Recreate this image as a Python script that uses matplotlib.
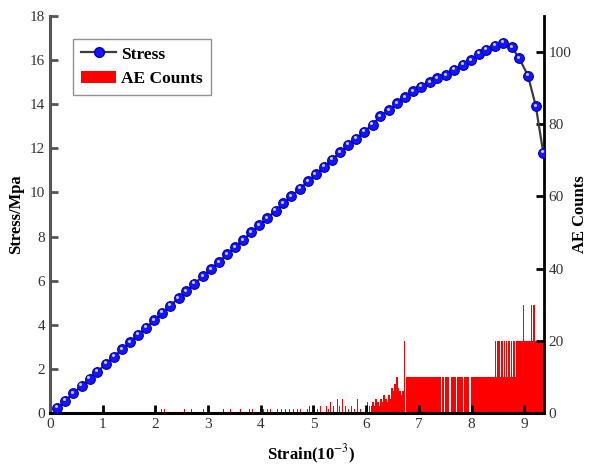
import matplotlib
matplotlib.use('Agg')
import matplotlib.pyplot as plt
import matplotlib.transforms as mtransforms
from matplotlib.lines import Line2D
from matplotlib.patches import Patch

# Stress-strain curve (strain in 1e-3, stress in MPa)
strain = [0.14, 0.29, 0.44, 0.60, 0.75, 0.90, 1.06, 1.21, 1.36, 1.52,
          1.67, 1.82, 1.98, 2.13, 2.28, 2.44, 2.59, 2.74, 2.90, 3.05,
          3.20, 3.36, 3.51, 3.66, 3.82, 3.97, 4.12, 4.28, 4.43, 4.58,
          4.74, 4.89, 5.04, 5.20, 5.35, 5.50, 5.66, 5.81, 5.96, 6.12,
          6.27, 6.43, 6.59, 6.73, 6.89, 7.04, 7.21, 7.35, 7.52, 7.67,
          7.83, 7.99, 8.14, 8.28, 8.44, 8.59, 8.76, 8.90, 9.07, 9.22,
          9.36]
stress = [0.24, 0.56, 0.89, 1.23, 1.56, 1.88, 2.23, 2.55, 2.88, 3.22,
          3.55, 3.87, 4.21, 4.54, 4.86, 5.21, 5.53, 5.86, 6.20, 6.53,
          6.85, 7.20, 7.52, 7.84, 8.19, 8.51, 8.84, 9.18, 9.50, 9.83,
          10.17, 10.50, 10.82, 11.17, 11.49, 11.82, 12.16, 12.44, 12.75, 13.08,
          13.45, 13.73, 14.06, 14.32, 14.60, 14.80, 15.00, 15.18, 15.33, 15.57,
          15.80, 16.00, 16.29, 16.48, 16.66, 16.79, 16.60, 16.10, 15.30, 13.90,
          11.80]

# AE hits, sparse early phase (strain, counts)
ae_strain = [2.05, 2.12, 2.18, 2.55, 2.68, 2.92, 3.15, 3.30, 3.42, 3.55,
             3.62, 3.70, 3.78, 3.85, 3.99, 4.05, 4.12, 4.18, 4.25, 4.32,
             4.40, 4.47, 4.55, 4.62, 4.70, 4.76, 4.80, 4.88, 4.93, 5.02,
             5.08, 5.13, 5.18, 5.24, 5.28, 5.33, 5.38, 5.45, 5.50, 5.55,
             5.60, 5.66, 5.72, 5.78, 5.83, 5.90, 5.96, 6.02, 6.06]
ae_counts = [1, 1, 1, 1, 1, 1, 1, 1, 1, 1,
             1, 1, 1, 1, 1, 1, 1, 1, 1, 1,
             1, 1, 1, 1, 1, 1, 1, 1, 2, 1,
             1, 2, 1, 2, 1, 3, 2, 4, 2, 4,
             2, 1, 2, 1, 4, 1, 2, 3, 2]

# AE hits, dense phase before the plateau
dense_strain = [6.10, 6.13, 6.16, 6.19, 6.22, 6.25, 6.28, 6.31, 6.34, 6.37,
                6.40, 6.43, 6.46, 6.49, 6.52, 6.55, 6.58, 6.61, 6.64, 6.67,
                6.70, 6.73]
dense_counts = [2, 3, 2, 4, 3, 2, 4, 3, 5, 4,
                3, 5, 4, 7, 6, 8, 10, 7, 6, 5,
                6, 20]

# AE hits, single peaks above the plateau
peak_strain = [8.45, 8.49, 8.52, 8.56, 8.59, 8.63, 8.67, 8.71, 8.75, 8.79,
               8.82, 8.98, 9.135]
peak_counts = [20, 20, 20, 20, 20, 20, 20, 20, 20, 20,
               20, 30, 30]

# AE hits: continuous runs (start, end, counts)
run_start = [6.75, 7.44, 7.49, 7.60, 7.72, 7.85, 7.98, 8.85, 9.17]
run_end = [7.42, 7.47, 7.58, 7.70, 7.83, 7.96, 8.85, 9.37, 9.21]
run_counts = [10, 10, 10, 10, 10, 10, 10, 20, 30]

plt.rcParams['font.family'] = ['Liberation Serif', 'DejaVu Serif']
plt.rcParams['mathtext.fontset'] = 'stix'

fig = plt.figure(figsize=(5.93, 4.67), dpi=100)
ax = fig.add_axes([0.0843, 0.1156, 0.8327, 0.8501])
ax2 = ax.twinx()

# AE counts on the right axis
ax2.bar(ae_strain, ae_counts, width=0.016, color='#ff0000', linewidth=0)
ax2.bar(dense_strain, dense_counts, width=0.032, color='#ff0000', linewidth=0)
ax2.bar(peak_strain, peak_counts, width=0.02, color='#ff0000', linewidth=0)
ax2.bar(run_start, run_counts, width=[e - s for s, e in zip(run_start, run_end)],
        align='edge', color='#ff0000', linewidth=0)
ax2.set_ylim(0, 110)
ax2.set_yticks([0, 20, 40, 60, 80, 100])
ax2.set_ylabel('AE Counts', fontsize=12, fontweight='bold', labelpad=0)

# stress curve on top
ax.set_zorder(ax2.get_zorder() + 1)
ax.patch.set_visible(False)
ax.plot(strain, stress, color='#3c3c3c', lw=1.6, zorder=2)
ax.plot(strain, stress, ls='none', marker='o', ms=7, mfc='#1414ff', mec='#0000b0',
        mew=0.8, zorder=3)
hl = mtransforms.offset_copy(ax.transData, fig=fig, x=-0.8, y=1.0, units='points')
ax.plot(strain, stress, ls='none', marker='o', ms=2.2, mfc='#c8ccff', mec='none',
        transform=hl, zorder=4)

ax.set_xlim(0, 9.37)
ax.set_ylim(0, 18)
ax.set_xticks(range(0, 10))
ax.set_yticks(range(0, 19, 2))
ax.set_xlabel('Strain(10$^{-3}$)', fontsize=12, fontweight='bold')
ax.xaxis.set_label_coords(0.528, -0.075)
ax.set_ylabel('Stress/Mpa', fontsize=12, fontweight='bold', labelpad=4)

for a in (ax, ax2):
    a.spines['top'].set_visible(False)
    a.tick_params(direction='in', length=6, width=2, labelsize=11, labelcolor='#333333')
ax.spines['left'].set_color('#555555')
ax.spines['left'].set_linewidth(2.2)
ax.spines['bottom'].set_linewidth(2.2)
ax2.spines['right'].set_linewidth(2)
ax2.spines['left'].set_visible(False)
ax2.spines['bottom'].set_visible(False)
ax.spines['right'].set_visible(False)
ax.tick_params(axis='y', colors='#555555', labelcolor='#333333')

handles = [Line2D([], [], color='#3c3c3c', lw=1.6, marker='o', ms=7,
                  mfc='#1414ff', mec='#0000b0'),
           Patch(facecolor='#ff0000', edgecolor='none')]
leg = ax.legend(handles, ['Stress', 'AE Counts'], loc='upper left',
                bbox_to_anchor=(0.03, 0.965), fancybox=False, edgecolor='#777777',
                prop={'weight': 'bold', 'size': 12.5}, handlelength=2.0,
                handletextpad=0.3, borderpad=0.45, labelspacing=0.5)
leg.get_frame().set_linewidth(1.0)

fig.savefig('out.png', dpi=100)
